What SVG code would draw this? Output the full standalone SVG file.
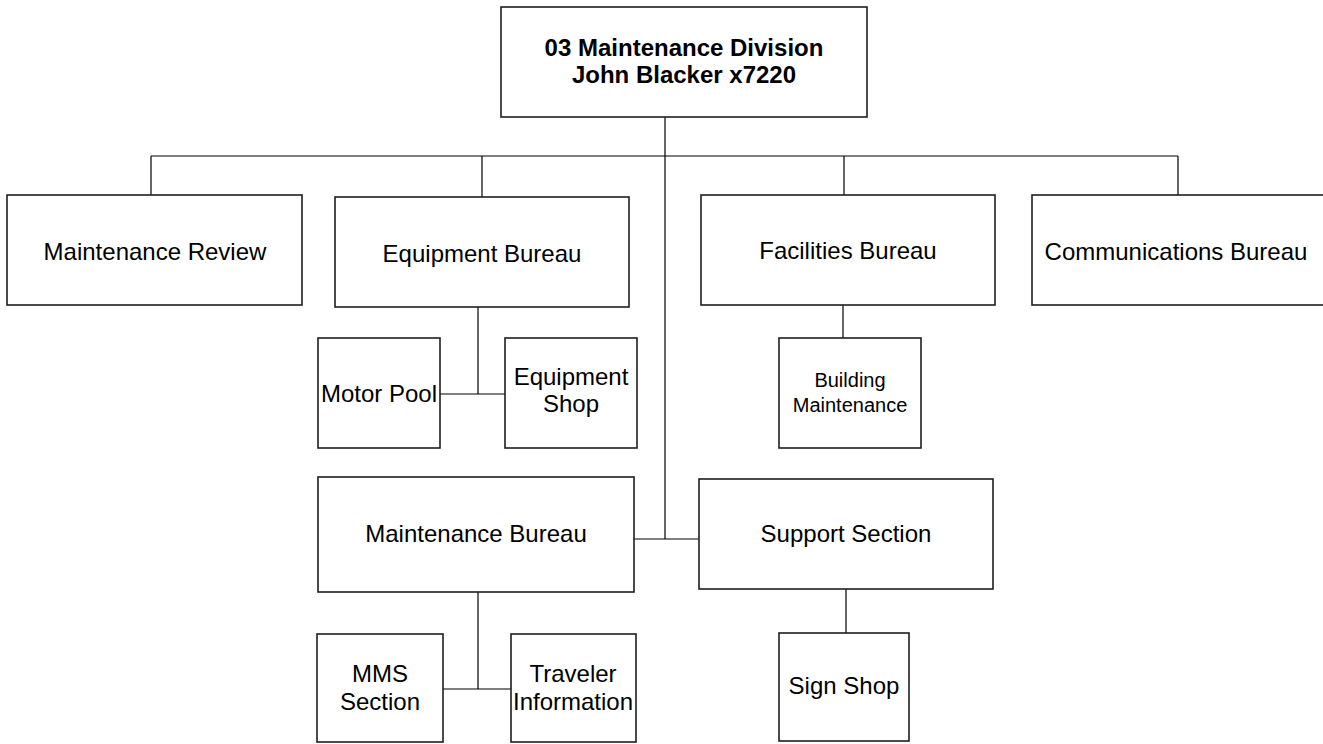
<svg xmlns="http://www.w3.org/2000/svg" width="1323" height="744" viewBox="0 0 1323 744">
  <style>
    .box { fill: #ffffff; stroke: #1e1e1e; stroke-width: 1.6; }
    .line { fill: none; stroke: #000000; stroke-width: 1.2; }
    text { font-family: "Liberation Sans", Arial, sans-serif; font-size: 24px; fill: #000000; text-anchor: middle; }
    .title { font-weight: bold; }
    .small { font-size: 20px; }
  </style>
  <rect width="1323" height="744" fill="#ffffff"/>

  <!-- connectors -->
  <g id="connectors">
    <line class="line" x1="665" y1="117" x2="665" y2="539"/>
    <line class="line" x1="151" y1="156" x2="1178" y2="156"/>
    <line class="line" x1="151" y1="156" x2="151" y2="195"/>
    <line class="line" x1="482" y1="156" x2="482" y2="197"/>
    <line class="line" x1="844" y1="156" x2="844" y2="195"/>
    <line class="line" x1="1178" y1="156" x2="1178" y2="195"/>
    <line class="line" x1="634" y1="539" x2="699" y2="539"/>
    <line class="line" x1="478" y1="307" x2="478" y2="394"/>
    <line class="line" x1="440" y1="394" x2="505" y2="394"/>
    <line class="line" x1="843" y1="305" x2="843" y2="338"/>
    <line class="line" x1="478" y1="592" x2="478" y2="689"/>
    <line class="line" x1="443" y1="689" x2="511" y2="689"/>
    <line class="line" x1="846" y1="589" x2="846" y2="633"/>
  </g>

  <g id="division">
    <rect class="box" x="501" y="7" width="366" height="110"/>
    <text class="title" x="684" y="56">03 Maintenance Division</text>
    <text class="title" x="684" y="83">John Blacker x7220</text>
  </g>

  <g id="maintenance-review">
    <rect class="box" x="7" y="195" width="295" height="110"/>
    <text x="155" y="260">Maintenance Review</text>
  </g>

  <g id="equipment-bureau">
    <rect class="box" x="335" y="197" width="294" height="110"/>
    <text x="482" y="262">Equipment Bureau</text>
  </g>

  <g id="facilities-bureau">
    <rect class="box" x="701" y="195" width="294" height="110"/>
    <text x="848" y="259">Facilities Bureau</text>
  </g>

  <g id="communications-bureau">
    <rect class="box" x="1032" y="195" width="294" height="110"/>
    <text x="1176" y="260">Communications Bureau</text>
  </g>

  <g id="motor-pool">
    <rect class="box" x="318" y="338" width="122" height="110"/>
    <text x="379" y="402">Motor Pool</text>
  </g>

  <g id="equipment-shop">
    <rect class="box" x="505" y="338" width="132" height="110"/>
    <text x="571" y="385">Equipment</text>
    <text x="571" y="412">Shop</text>
  </g>

  <g id="building-maintenance">
    <rect class="box" x="779" y="338" width="142" height="110"/>
    <text class="small" x="850" y="387">Building</text>
    <text class="small" x="850" y="412">Maintenance</text>
  </g>

  <g id="maintenance-bureau">
    <rect class="box" x="318" y="477" width="316" height="115"/>
    <text x="476" y="542">Maintenance Bureau</text>
  </g>

  <g id="support-section">
    <rect class="box" x="699" y="479" width="294" height="110"/>
    <text x="846" y="542">Support Section</text>
  </g>

  <g id="mms-section">
    <rect class="box" x="317" y="634" width="126" height="108"/>
    <text x="380" y="682">MMS</text>
    <text x="380" y="710">Section</text>
  </g>

  <g id="traveler-information">
    <rect class="box" x="511" y="634" width="125" height="108"/>
    <text x="573" y="682">Traveler</text>
    <text x="573" y="710">Information</text>
  </g>

  <g id="sign-shop">
    <rect class="box" x="779" y="633" width="130" height="108"/>
    <text x="844" y="694">Sign Shop</text>
  </g>
</svg>
